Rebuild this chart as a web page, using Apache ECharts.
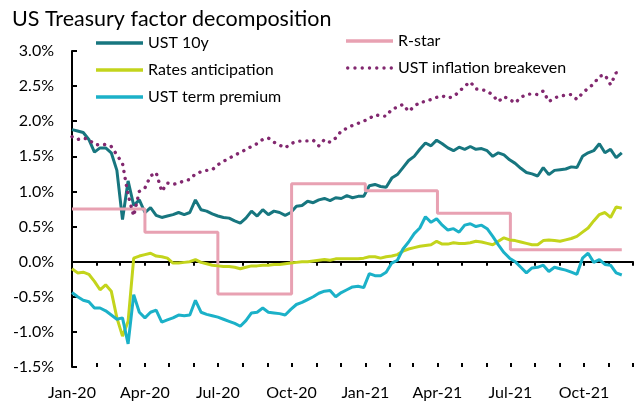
<!DOCTYPE html>
<html>
<head>
<meta charset="utf-8">
<script src="https://cdn.jsdelivr.net/npm/echarts@6/dist/echarts.min.js"></script>
<style>html,body{margin:0;padding:0;background:#fff}#chart{width:644px;height:405px}</style>
</head>
<body>
<div id="chart"></div>
<script>
// Weekly observations starting 2020-01-01 (one value per week)
const startDate = [2020, 0, 1];
const ust10y = [1.88,1.86,1.84,1.74,1.56,1.62,1.62,1.55,1.30,0.60,1.15,0.80,0.88,0.70,0.77,0.66,0.63,0.65,0.67,0.70,
0.67,0.70,0.88,0.74,0.72,0.68,0.65,0.63,0.62,0.58,0.55,0.62,0.72,0.65,0.74,0.67,0.72,0.70,0.66,0.70,
0.79,0.80,0.86,0.84,0.88,0.90,0.87,0.91,0.90,0.94,0.91,0.93,0.93,1.08,1.10,1.07,1.06,1.19,1.24,1.34,
1.44,1.50,1.60,1.69,1.65,1.73,1.68,1.62,1.58,1.63,1.60,1.64,1.60,1.61,1.58,1.50,1.55,1.52,1.45,1.40,
1.33,1.27,1.25,1.22,1.34,1.24,1.30,1.31,1.32,1.35,1.34,1.50,1.55,1.58,1.68,1.55,1.60,1.48,1.55];
const ratesAnticipation = [-0.10,-0.16,-0.15,-0.18,-0.28,-0.40,-0.33,-0.42,-0.80,-1.06,-0.85,0.05,0.08,0.10,0.12,0.08,0.07,0.05,-0.02,-0.02,
-0.01,0.00,0.03,-0.01,-0.03,-0.05,-0.06,-0.07,-0.07,-0.08,-0.10,-0.08,-0.06,-0.06,-0.05,-0.05,-0.04,-0.04,-0.03,-0.02,
-0.01,0.00,0.00,0.01,0.02,0.03,0.02,0.04,0.04,0.04,0.04,0.04,0.05,0.07,0.07,0.05,0.07,0.08,0.10,0.15,
0.18,0.20,0.22,0.23,0.24,0.29,0.25,0.25,0.27,0.26,0.26,0.27,0.29,0.28,0.26,0.24,0.29,0.34,0.31,0.30,
0.28,0.26,0.24,0.24,0.30,0.31,0.30,0.29,0.31,0.33,0.36,0.42,0.48,0.58,0.67,0.70,0.63,0.78,0.76];
const termPremium = [-0.44,-0.50,-0.55,-0.57,-0.66,-0.66,-0.70,-0.76,-0.82,-0.80,-1.17,-0.47,-0.72,-0.80,-0.72,-0.69,-0.86,-0.83,-0.80,-0.76,
-0.77,-0.76,-0.55,-0.72,-0.75,-0.77,-0.79,-0.82,-0.85,-0.88,-0.92,-0.84,-0.73,-0.72,-0.66,-0.72,-0.73,-0.74,-0.76,-0.68,
-0.61,-0.58,-0.54,-0.50,-0.45,-0.42,-0.41,-0.50,-0.44,-0.40,-0.36,-0.35,-0.37,-0.17,-0.20,-0.20,-0.15,-0.02,0.02,0.18,
0.28,0.40,0.48,0.64,0.56,0.61,0.52,0.45,0.47,0.42,0.52,0.54,0.50,0.52,0.47,0.36,0.24,0.13,0.05,0.00,
-0.08,-0.16,-0.09,-0.08,-0.05,-0.14,-0.08,-0.10,-0.12,-0.15,-0.18,0.05,0.12,-0.01,0.03,-0.04,-0.05,-0.16,-0.19];
const breakeven = [1.78,1.74,1.76,1.74,1.67,1.66,1.67,1.64,1.52,1.40,0.95,0.65,1.00,1.05,1.22,1.27,1.00,1.12,1.10,1.12,
1.15,1.17,1.25,1.28,1.30,1.31,1.38,1.43,1.47,1.52,1.55,1.60,1.64,1.68,1.74,1.76,1.70,1.66,1.62,1.68,
1.71,1.72,1.72,1.73,1.65,1.74,1.70,1.76,1.86,1.90,1.94,1.97,2.00,2.04,2.09,2.08,2.07,2.17,2.20,2.24,
2.14,2.21,2.27,2.28,2.31,2.34,2.36,2.33,2.35,2.42,2.50,2.56,2.46,2.45,2.43,2.37,2.28,2.35,2.31,2.26,
2.34,2.38,2.39,2.38,2.43,2.28,2.33,2.36,2.37,2.38,2.31,2.40,2.47,2.53,2.64,2.66,2.52,2.69,2.67];
const rStarDates = ['2020-01-01','2020-04-01','2020-07-01','2020-10-01','2021-01-01','2021-04-01','2021-07-01','2021-11-17'];
const rStar = [0.75,0.42,-0.46,1.11,1.01,0.69,0.17,0.17];
const yTicks = [-1.5,-1.0,-0.5,0.0,0.5,1.0,1.5,2.0,2.5,3.0];
const monthNames = ['Jan','Feb','Mar','Apr','May','Jun','Jul','Aug','Sep','Oct','Nov','Dec'];

const weekDates = ust10y.map((_, i) => new Date(startDate[0], startDate[1], startDate[2] + 7 * i).getTime());
const pair = arr => arr.map((v, i) => [weekDates[i], v]);
const parse = s => { const p = s.split('-').map(Number); return new Date(p[0], p[1] - 1, p[2]).getTime(); };

const xMin = new Date(2020, 0, 1).getTime();
const xMax = new Date(2021, 11, 1).getTime();
const monthTicks = [];
for (let m = 0; m <= 23; m++) monthTicks.push(new Date(2020, m, 1).getTime());
const quarterTicks = monthTicks.filter((_, i) => i % 3 === 0);

// dotted legend icon (row of round dots)
let dotPath = 'path://';
for (let i = 0; i < 7; i++) {
  const cx = 1.7 + i * 7.2;
  dotPath += 'M' + (cx - 1.7) + ',1.7a1.7,1.7 0 1,0 3.4,0a1.7,1.7 0 1,0 -3.4,0z';
}

const FONT = 'Lato';
const chart = echarts.init(document.getElementById('chart'));
const baseX = { type: 'value', min: xMin, max: xMax, position: 'bottom', splitLine: { show: false } };
const legendText = { fontFamily: FONT, fontSize: 16, color: '#000', lineHeight: 18 };
chart.setOption({
  animation: false,
  title: { text: 'US Treasury factor decomposition', left: 12, top: 8, padding: 0,
    textStyle: { fontFamily: FONT, fontSize: 21.5, fontWeight: 'normal', color: '#000' } },
  legend: [
    { data: [{ name: 'UST 10y', icon: 'rect' }, { name: 'Rates anticipation', icon: 'rect' }, { name: 'UST term premium', icon: 'rect' }],
      orient: 'vertical', left: 96, top: 34, padding: 0,
      itemWidth: 47, itemHeight: 3.5, itemGap: 9, textStyle: legendText },
    { data: [{ name: 'R-star', icon: 'rect' }, { name: 'UST inflation breakeven', icon: dotPath }],
      orient: 'vertical', left: 346, top: 32, padding: 0,
      itemWidth: 47, itemHeight: 3.5, itemGap: 9, textStyle: legendText }
  ],
  grid: { left: 72, right: 11, top: 51, bottom: 38 },
  xAxis: [
    Object.assign({}, baseX, {
      axisLine: { onZero: true, lineStyle: { color: '#000', width: 2 } },
      axisTick: { show: true, inside: false, length: 4, customValues: monthTicks, lineStyle: { color: '#000', width: 2 } },
      axisLabel: { show: false } }),
    Object.assign({}, baseX, {
      axisLine: { show: false, onZero: true },
      axisTick: { show: true, inside: true, length: 4, customValues: monthTicks, lineStyle: { color: '#000', width: 2 } },
      axisLabel: { show: false } }),
    Object.assign({}, baseX, {
      axisLine: { show: false, onZero: false },
      axisTick: { show: false },
      axisLabel: { show: true, customValues: quarterTicks, margin: 18,
        fontFamily: FONT, fontSize: 16, color: '#000',
        formatter: v => { const d = new Date(v); return monthNames[d.getMonth()] + '-' + String(d.getFullYear()).slice(2); } } })
  ],
  yAxis: {
    type: 'value', min: yTicks[0], max: yTicks[yTicks.length - 1], interval: 0.5,
    splitLine: { show: false },
    axisLine: { show: true, onZero: false, lineStyle: { color: '#000', width: 2 } },
    axisTick: { show: true, inside: true, length: 5, lineStyle: { color: '#000', width: 2 } },
    axisLabel: { margin: 18, fontFamily: FONT, fontSize: 16, color: '#000',
      formatter: v => v.toFixed(1) + '%' }
  },
  series: [
    { name: 'UST 10y', type: 'line', data: pair(ust10y), symbol: 'none',
      lineStyle: { color: '#17767f', width: 3 }, itemStyle: { color: '#17767f' } },
    { name: 'R-star', type: 'line', step: 'end', data: rStarDates.map((d, i) => [parse(d), rStar[i]]), symbol: 'none',
      lineStyle: { color: '#e8a1b2', width: 3 }, itemStyle: { color: '#e8a1b2' } },
    { name: 'Rates anticipation', type: 'line', data: pair(ratesAnticipation), symbol: 'none',
      lineStyle: { color: '#c3d41c', width: 3 }, itemStyle: { color: '#c3d41c' } },
    { name: 'UST inflation breakeven', type: 'line', data: pair(breakeven), symbol: 'none',
      lineStyle: { color: '#82286f', width: 3.4, type: [0.1, 7], cap: 'round' }, itemStyle: { color: '#82286f' } },
    { name: 'UST term premium', type: 'line', data: pair(termPremium), symbol: 'none',
      lineStyle: { color: '#1bb1c8', width: 3 }, itemStyle: { color: '#1bb1c8' } }
  ]
});
</script>
</body>
</html>
